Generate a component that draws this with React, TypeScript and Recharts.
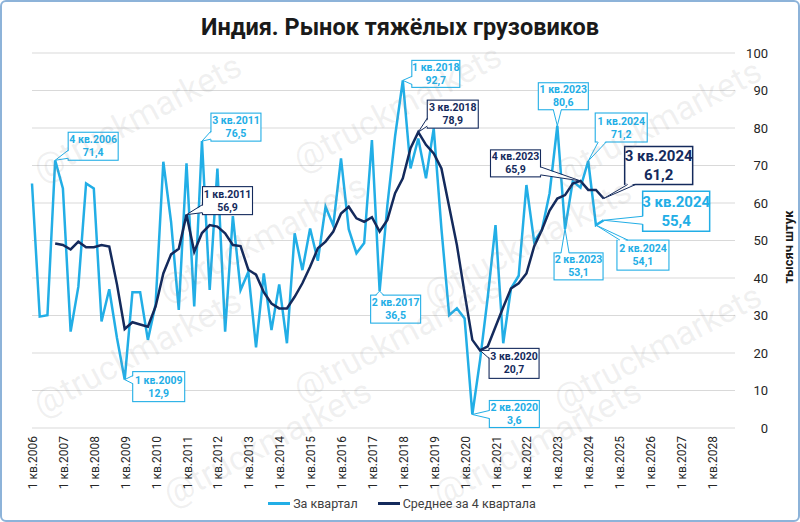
import React from 'react'
import { LineChart, Line, XAxis, YAxis, CartesianGrid, ReferenceDot } from 'recharts'

const BLUE = '#22aee6'
const NAVY = '#142a5c'
const FONT = 'Roboto, "Noto Sans", sans-serif'

// 1 кв.2006 ... 4 кв.2028
const years = [
  2006, 2007, 2008, 2009, 2010, 2011, 2012, 2013, 2014, 2015, 2016, 2017,
  2018, 2019, 2020, 2021, 2022, 2023, 2024, 2025, 2026, 2027, 2028,
]
const quarters = ['1', '2', '3', '4']
const categories = years.flatMap((y) => quarters.map((q) => `${q} кв.${y}`))
const yearTicks = years.map((y) => `1 кв.${y}`)

// за квартал, тыс. шт. (1 кв.2006 - 3 кв.2024)
const perQuarter = [
  65.2, 29.7, 30.1, 71.4,
  63.9, 25.7, 37.7, 65.2,
  63.9, 28.4, 37.0, 24.0,
  12.9, 36.2, 36.2, 23.5,
  33.0, 71.0, 55.0, 31.5,
  70.6, 32.4, 76.5, 36.8,
  69.2, 25.7, 56.5, 36.8,
  41.6, 21.5, 41.2, 26.1,
  38.3, 22.6, 51.9, 42.1,
  53.2, 44.6, 59.0, 54.0,
  71.9, 53.0, 46.6, 49.3,
  76.8, 36.5, 59.4, 77.8,
  92.7, 69.2, 77.2, 66.6,
  79.9, 53.1, 30.1, 31.9,
  29.2, 3.6, 18.1, 35.0,
  54.1, 22.6, 37.2, 40.6,
  64.8, 49.7, 52.8, 62.6,
  80.6, 53.1, 65.8, 64.1,
  71.2, 54.1, 55.4,
]

// среднее за 4 квартала (начиная с 4 кв.2006)
const avgStart = 3
const avg4 = [
  49.2,
  48.8, 47.6, 49.7, 48.2,
  48.2, 48.8, 48.4, 38.3,
  26.4, 28.2, 27.6, 27.0,
  32.4, 41.2, 46.3, 47.8,
  56.9, 47.0, 52.0, 54.1,
  53.7, 51.9, 48.8, 48.5,
  42.2, 40.9, 36.2, 33.2,
  31.9, 31.9, 35.0, 38.6,
  43.0, 47.9, 49.7, 52.4,
  57.2, 59.0, 55.9, 55.0,
  56.2, 52.4, 55.5, 62.6,
  66.6, 74.6, 78.9, 75.5,
  73.2, 69.2, 59.0, 48.8,
  35.9, 23.5, 20.7, 21.8,
  27.0, 32.2, 37.2, 38.6,
  41.2, 48.4, 52.8, 58.0,
  61.2, 62.1, 65.2, 65.9,
  63.5, 63.5, 61.2,
]

const yTicks = [0, 10, 20, 30, 40, 50, 60, 70, 80, 90, 100]

const data = categories.map((q, i) => ({
  q,
  v: i < perQuarter.length ? perQuarter[i] : null,
  a: i >= avgStart && i - avgStart < avg4.length ? avg4[i - avgStart] : null,
}))

// callout boxes: which point, and where the box sits relative to it
const callouts = [
  { s: 'v', i: 3, dx: 13, dy: -28, w: 50, h: 28 },
  { s: 'v', i: 12, dx: 8, dy: -8, w: 52, h: 30 },
  { s: 'v', i: 22, dx: 9, dy: -28, w: 50, h: 28 },
  { s: 'v', i: 45, dx: -9, dy: 4, w: 50, h: 28 },
  { s: 'v', i: 48, dx: 9, dy: -20, w: 48, h: 27 },
  { s: 'v', i: 57, dx: 17, dy: -14, w: 50, h: 27 },
  { s: 'v', i: 68, dx: -19, dy: -43, w: 50, h: 27 },
  { s: 'v', i: 69, dx: -11, dy: 24, w: 49, h: 27 },
  { s: 'v', i: 72, dx: 7, dy: -48, w: 52, h: 29 },
  { s: 'v', i: 73, dx: 21, dy: 15, w: 52, h: 30 },
  { s: 'v', i: 74, dx: 39, dy: -29, w: 67, h: 40, big: true },
  { s: 'a', i: 20, dx: 16, dy: -28, w: 50, h: 28 },
  { s: 'a', i: 50, dx: 9, dy: -32, w: 51, h: 28 },
  { s: 'a', i: 58, dx: 9, dy: -2, w: 50, h: 30 },
  { s: 'a', i: 71, dx: -90, dy: -31, w: 50, h: 27 },
  { s: 'a', i: 74, dx: 21, dy: -52, w: 68, h: 38, big: true },
]

const watermarks = [
  [135, 115], [395, 105], [655, 120],
  [260, 235], [525, 240],
  [135, 350], [395, 335], [655, 345],
  [265, 440], [535, 440],
]

const fmt = (n: number) => n.toFixed(1).replace('.', ',')
const clamp = (v: number, lo: number, hi: number) => Math.max(lo, Math.min(hi, v))

function Callout({ cx, cy, dx, dy, w, h, color, lines, big }: any) {
  const bx = cx + dx
  const by = cy + dy
  const mx = bx + w / 2
  const my = by + h / 2
  const tx = cx - mx
  const ty = cy - my
  let b1: number[]
  let b2: number[]
  let p1: number[]
  let p2: number[]
  if (Math.abs(tx) / (w / 2) > Math.abs(ty) / (h / 2)) {
    const sx = tx > 0 ? bx + w : bx
    const inset = tx > 0 ? -1.5 : 1.5
    const yc = clamp(cy, by + 6, by + h - 6)
    b1 = [sx, yc - 4]
    b2 = [sx, yc + 4]
    p1 = [sx + inset, yc - 4]
    p2 = [sx + inset, yc + 4]
  } else {
    const sy = ty > 0 ? by + h : by
    const inset = ty > 0 ? -1.5 : 1.5
    const xc = clamp(cx, bx + 7, bx + w - 7)
    b1 = [xc - 4, sy]
    b2 = [xc + 4, sy]
    p1 = [xc - 4, sy + inset]
    p2 = [xc + 4, sy + inset]
  }
  const fs = big ? 15 : 10.5
  const gap = big ? 9.5 : 6.5
  return (
    <g>
      <rect x={bx} y={by} width={w} height={h} fill="#fff" stroke={color} strokeWidth={big ? 1.5 : 1.1} />
      <polygon points={`${p1[0]},${p1[1]} ${cx},${cy} ${p2[0]},${p2[1]}`} fill="#fff" />
      <line x1={b1[0]} y1={b1[1]} x2={cx} y2={cy} stroke={color} strokeWidth={1} />
      <line x1={b2[0]} y1={b2[1]} x2={cx} y2={cy} stroke={color} strokeWidth={1} />
      <text
        x={mx}
        textAnchor="middle"
        fontFamily={FONT}
        fontWeight="bold"
        fontSize={fs}
        fill={color}
      >
        <tspan x={mx} y={my - gap} dominantBaseline="central">{lines[0]}</tspan>
        <tspan x={mx} y={my + gap} dominantBaseline="central">{lines[1]}</tspan>
      </text>
    </g>
  )
}

const XTick = ({ x, y, payload }: any) => (
  <text
    transform={`translate(${x + 1},${y}) rotate(-90)`}
    textAnchor="end"
    dominantBaseline="central"
    fontFamily={FONT}
    fontSize={12}
    fill="#262626"
  >
    {payload.value}
  </text>
)

const YTick = ({ y, payload }: any) => (
  <text x={768} y={y} textAnchor="end" dominantBaseline="central" fontFamily={FONT} fontSize={13} fill="#262626">
    {payload.value}
  </text>
)

export default function App() {
  return (
    <div
      style={{
        position: 'absolute',
        left: 0,
        top: 0,
        width: 800,
        height: 522,
        boxSizing: 'border-box',
        border: '2px solid #8db3d9',
        borderRadius: 6,
        background: '#fff',
        overflow: 'hidden',
        fontFamily: FONT,
      }}
    >
      <div
        style={{
          position: 'absolute',
          top: 11,
          left: 0,
          width: 796,
          textAlign: 'center',
          fontSize: 23.5,
          fontWeight: 'bold',
          color: '#1a1a1a',
        }}
      >
        Индия. Рынок тяжёлых грузовиков
      </div>
      <div style={{ position: 'absolute', left: -2, top: -2 }}>
        <LineChart width={800} height={522} data={data} margin={{ top: 53, right: 15, left: 32, bottom: 24 }}>
          <CartesianGrid vertical={false} stroke="#d9d9d9" />
          <XAxis
            dataKey="q"
            ticks={yearTicks}
            interval={0}
            axisLine={false}
            tickLine={false}
            height={70}
            tick={<XTick />}
            tickMargin={2}
          />
          <YAxis
            orientation="right"
            domain={[0, 100]}
            ticks={yTicks}
            axisLine={false}
            tickLine={false}
            width={50}
            tick={<YTick />}
          />
          <Line
            type="linear"
            dataKey="v"
            stroke={BLUE}
            strokeWidth={2.5}
            dot={false}
            activeDot={false}
            isAnimationActive={false}
          />
          <Line
            type="linear"
            dataKey="a"
            stroke={NAVY}
            strokeWidth={2.5}
            dot={false}
            activeDot={false}
            isAnimationActive={false}
          />
          {callouts.map((c) => {
            const val = c.s === 'v' ? perQuarter[c.i] : avg4[c.i - avgStart]
            const color = c.s === 'v' ? BLUE : NAVY
            return (
              <ReferenceDot
                key={`${c.s}${c.i}`}
                x={categories[c.i]}
                y={val}
                r={1}
                ifOverflow="visible"
                shape={(p: any) => (
                  <Callout
                    cx={p.cx}
                    cy={p.cy}
                    dx={c.dx}
                    dy={c.dy}
                    w={c.w}
                    h={c.h}
                    big={c.big}
                    color={color}
                    lines={[categories[c.i], fmt(val)]}
                  />
                )}
              />
            )
          })}
        </LineChart>
      </div>
      <div
        style={{
          position: 'absolute',
          left: 787 - 60,
          top: 245 - 9,
          width: 120,
          height: 18,
          textAlign: 'center',
          transform: 'rotate(-90deg)',
          fontSize: 13,
          fontWeight: 'bold',
          color: '#1a1a1a',
          lineHeight: '18px',
        }}
      >
        тысяч штук
      </div>
      <div
        style={{
          position: 'absolute',
          top: 494,
          left: 0,
          width: 800,
          display: 'flex',
          justifyContent: 'center',
          alignItems: 'center',
          fontSize: 12.5,
          color: '#404040',
        }}
      >
        <span style={{ display: 'inline-block', width: 22, height: 3, background: BLUE, marginRight: 3 }} />
        <span style={{ marginRight: 20 }}>За квартал</span>
        <span style={{ display: 'inline-block', width: 22, height: 3, background: NAVY, marginRight: 3 }} />
        <span>Среднее за 4 квартала</span>
      </div>
      {watermarks.map(([x, y], k) => (
        <div
          key={k}
          style={{
            position: 'absolute',
            left: x - 120,
            top: y - 20,
            width: 240,
            height: 40,
            lineHeight: '40px',
            textAlign: 'center',
            fontSize: 34,
            color: 'rgba(140,140,140,0.13)',
            transform: 'rotate(-28deg)',
            pointerEvents: 'none',
            whiteSpace: 'nowrap',
          }}
        >
          @truckmarkets
        </div>
      ))}
    </div>
  )
}
